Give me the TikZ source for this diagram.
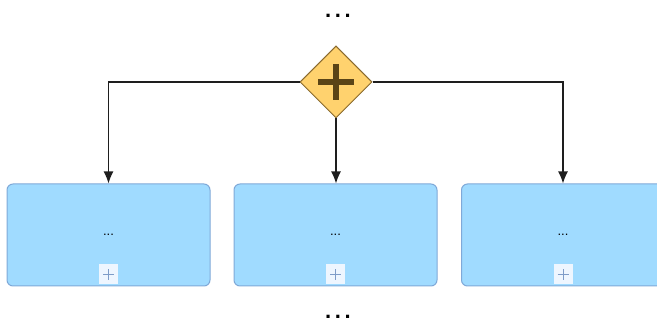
\documentclass[tikz,border=0pt]{standalone}
\usepackage{fontspec}
\setmainfont{Liberation Sans}
\usetikzlibrary{arrows.meta,shapes.geometric}
\definecolor{taskfill}{HTML}{A0DBFF}
\definecolor{taskline}{HTML}{7FA9D8}
\definecolor{gwfill}{HTML}{FFD26E}
\definecolor{gwline}{HTML}{8A6A2E}
\definecolor{gwplus}{HTML}{5A4416}
\definecolor{pfill}{HTML}{EEF6FF}
\definecolor{pline}{HTML}{7E9CC8}
\definecolor{arrc}{HTML}{1E1E1E}
\tikzset{
  gw/.style={diamond, draw=gwline, fill=gwfill, line width=1pt, minimum width=72pt, minimum height=72pt, inner sep=0pt},
  task/.style={rectangle, rounded corners=6pt, draw=taskline, fill=taskfill, line width=1pt, minimum width=203pt, minimum height=102pt, inner sep=0pt, font=\fontsize{13}{15}\selectfont},
  pbox/.style={rectangle, fill=pfill, minimum width=19pt, minimum height=20pt, inner sep=0pt,
    path picture={\draw[pline, line width=1pt] ([xshift=-5.5pt]path picture bounding box.center) -- ([xshift=5.5pt]path picture bounding box.center);
                  \draw[pline, line width=1pt] ([yshift=-5.5pt]path picture bounding box.center) -- ([yshift=5.5pt]path picture bounding box.center);}},
  arr/.style={draw=arrc, line width=1.3pt, -{Latex[length=12pt,width=10pt]}},
  dots/.style={font=\fontsize{22}{24}\selectfont\bfseries, anchor=base, inner sep=0pt}
}
\begin{document}
\begin{tikzpicture}[x=1pt,y=-1pt]
\useasboundingbox (0,0) rectangle (657,323);
\node[dots] (top) at (338,18) {.\,.\,.};
\node[dots] (bot) at (338,319) {.\,.\,.};
\node[gw] (g) at (336,82) {};
\draw[gwplus, line width=6pt] (318,82) -- (354,82);
\draw[gwplus, line width=6pt] (336,64) -- (336,100);
\node[task] (b1) at (108.5,235) {...};
\node[task] (b2) at (335.5,235) {...};
\node[task] (b3) at (563,235) {...};
\node[pbox] (p1) at ([yshift=12pt]b1.south) {};
\node[pbox] (p2) at ([yshift=12pt]b2.south) {};
\node[pbox] (p3) at ([yshift=12pt]b3.south) {};
\draw[arr] (g.west) -| (b1.north);
\draw[arr] (g.south) -- (g.south |- b2.north);
\draw[arr] (g.east) -| (b3.north);
\end{tikzpicture}
\end{document}
